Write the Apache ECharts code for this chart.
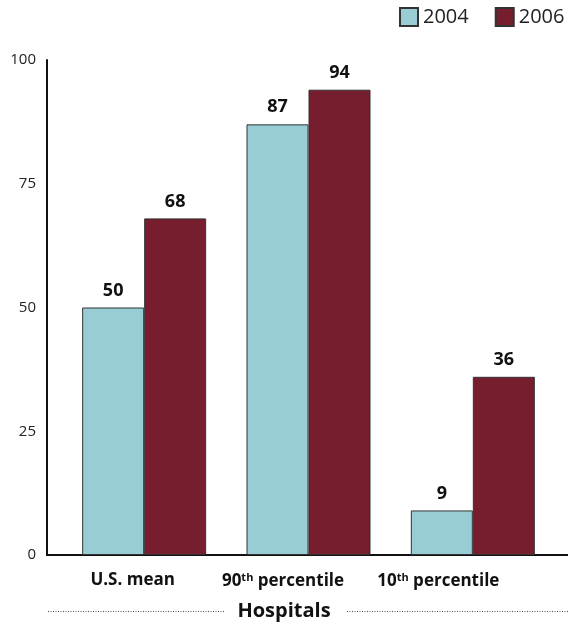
<!DOCTYPE html>
<html>
<head>
<meta charset="utf-8">
<script src="https://cdn.jsdelivr.net/npm/echarts@6/dist/echarts.min.js"></script>
<style>
html,body{margin:0;padding:0;background:#fff;}
#chart{width:568px;height:625px;}
</style>
</head>
<body>
<div id="chart"></div>
<script>
var categories = ['U.S. mean', '90th percentile', '10th percentile'];
var categoryRich = ['{b|U.S. mean}{g0|}', '{b|90}{sup|th}{b| percentile}{g1|}', '{b|10}{sup|th}{b| percentile}{g2|}'];
var seriesNames = ['2004', '2006'];
var values2004 = [50, 87, 9];
var values2006 = [68, 94, 36];
var yTicks = [0, 25, 50, 75, 100];
var xTitle = 'Hospitals';

var FONT = '"Open Sans", "Noto Sans", sans-serif';
var chart = echarts.init(document.getElementById('chart'), null, {renderer: 'canvas'});

var labelStyle = {
  show: true, position: 'top', distance: 8,
  fontFamily: FONT, fontWeight: 'bold', fontSize: 18, color: '#111'
};

var option = {
  backgroundColor: '#fff',
  animation: false,
  textStyle: {fontFamily: FONT},
  legend: {
    data: seriesNames,
    orient: 'horizontal',
    left: 399, top: 7, width: 300, padding: 0,
    itemWidth: 18, itemHeight: 18, itemGap: 26,
    icon: 'rect',
    textStyle: {fontFamily: FONT, fontSize: 20, color: '#222'}
  },
  grid: [
    {left: 62, right: 13, top: 60, bottom: 70, containLabel: false},
    {left: 47, right: 0, top: 60, bottom: 70, containLabel: false}
  ],
  xAxis: [
    {
      type: 'category', data: categories, gridIndex: 0,
      axisLine: {show: false}, axisTick: {show: false},
      axisLabel: {
        interval: 0, margin: 17, fontFamily: FONT, fontSize: 17, fontWeight: 'bold', color: '#111',
        formatter: function (v, i) { return categoryRich[i]; },
        rich: {
          b: {fontFamily: FONT, fontSize: 17, fontWeight: 'bold', color: '#111'},
          sup: {fontFamily: FONT, fontSize: 11, fontWeight: 'bold', color: '#111', verticalAlign: 'top', padding: [0, 0, 7, 0]},
          g0: {width: 23},
          g1: {width: 51},
          g2: {width: 69}
        }
      }
    },
    {
      type: 'value', gridIndex: 1, min: 0, max: 1,
      axisLine: {show: true, lineStyle: {color: '#111', width: 2}},
      axisTick: {show: false}, axisLabel: {show: false}, splitLine: {show: false}
    }
  ],
  yAxis: [
    {
      type: 'value', gridIndex: 0, min: 0, max: 100, interval: 25, offset: 15,
      axisLine: {show: true, lineStyle: {color: '#111', width: 2}},
      axisTick: {show: false}, splitLine: {show: false},
      axisLabel: {margin: 11, fontFamily: FONT, fontSize: 15, color: '#222',
        formatter: function (v) { return yTicks.indexOf(v) >= 0 ? String(v) : ''; }}
    },
    {
      type: 'value', gridIndex: 1, show: false, min: 0, max: 1
    }
  ],
  series: [
    {
      name: seriesNames[0], type: 'bar', data: values2004,
      barWidth: 62, barGap: '0%',
      itemStyle: {color: '#99CDD6', borderColor: '#333', borderWidth: 1},
      label: labelStyle
    },
    {
      name: seriesNames[1], type: 'bar', data: values2006,
      barWidth: 62, barGap: '0%',
      itemStyle: {color: '#761D2E', borderColor: '#333', borderWidth: 1},
      label: labelStyle
    }
  ],
  graphic: [
    {type: 'text', x: 284, y: 611, style: {text: xTitle, fontFamily: FONT, fontSize: 20, fontWeight: 'bold', fill: '#111', align: 'center', verticalAlign: 'middle'}, z: 10},
    {type: 'line', shape: {x1: 48, y1: 611.5, x2: 224, y2: 611.5}, style: {stroke: '#555', lineWidth: 1, lineDash: [1, 1.5]}},
    {type: 'line', shape: {x1: 347, y1: 611.5, x2: 568, y2: 611.5}, style: {stroke: '#555', lineWidth: 1, lineDash: [1, 1.5]}}
  ]
};
chart.setOption(option);
</script>
</body>
</html>
